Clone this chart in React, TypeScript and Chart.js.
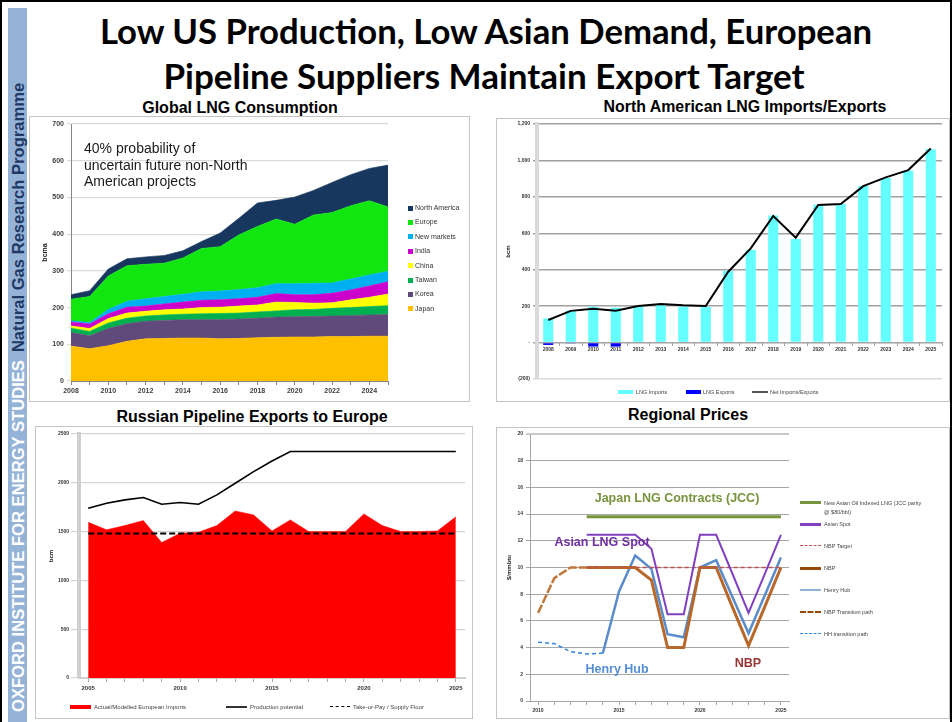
import React, { useEffect, useRef } from "react";
import { Chart, registerables } from "chart.js";

Chart.register(...registerables);

const FONT = "'Liberation Sans', Arial, Helvetica, sans-serif";
Chart.defaults.font.family = FONT;

// ---------- Global LNG Consumption (bcma) ----------
const lngYears = ["2008", "2009", "2010", "2011", "2012", "2013", "2014", "2015", "2016", "2017", "2018", "2019", "2020", "2021", "2022", "2023", "2024", "2025"];
const japan = [95, 88, 96, 108, 115, 116, 117, 117, 115, 116, 118, 119, 120, 120, 121, 121, 122, 122];
const korea = [37, 35, 47, 48, 48, 49, 50, 50, 52, 53, 53, 55, 55, 56, 56, 57, 58, 59];
const taiwan = [12, 12, 15, 15, 14, 15, 15, 16, 17, 16, 17, 17, 19, 19, 21, 22, 23, 24];
const china = [6, 8, 12, 14, 13, 14, 14, 17, 17, 19, 19, 24, 20, 17, 15, 21, 25, 32];
const india = [11, 12, 13, 16, 14, 16, 19, 20, 20, 20, 21, 23, 21, 23, 26, 27, 31, 33];
const newMarkets = [3, 4, 12, 16, 20, 20, 21, 23, 24, 25, 26, 27, 30, 31, 28, 30, 30, 29];
const europe = [59, 71, 91, 97, 94, 91, 99, 118, 121, 149, 167, 176, 162, 186, 192, 199, 202, 175];
const northAmerica = [12, 16, 19, 19, 20, 21, 20, 19, 37, 45, 64, 51, 74, 67, 82, 85, 88, 114];
const lngSeriesNames = ["North America", "Europe", "New markets", "India", "China", "Taiwan", "Korea", "Japan"];
const lngSeriesColors = ["#17375e", "#11e611", "#00b0f0", "#cc00cc", "#ffff00", "#00b050", "#604a7b", "#ffc000"];

// ---------- North American LNG Imports/Exports (bcm) ----------
const naYears = ["2008", "2009", "2010", "2011", "2012", "2013", "2014", "2015", "2016", "2017", "2018", "2019", "2020", "2021", "2022", "2023", "2024", "2025"];
const naImports = [133, 175, 197, 192, 197, 205, 197, 197, 393, 508, 697, 569, 757, 761, 859, 903, 943, 1062];
const naExports = [-13, -5, -22, -22, 0, 0, 0, 0, 0, 0, 0, 0, 0, 0, 0, 0, 0, 0];
const naNet = [124, 174, 186, 175, 201, 212, 205, 201, 389, 517, 695, 576, 755, 761, 859, 907, 947, 1066];

// ---------- Russian Pipeline Exports to Europe ----------
const ruYears = ["2005", "2006", "2007", "2008", "2009", "2010", "2011", "2012", "2013", "2014", "2015", "2016", "2017", "2018", "2019", "2020", "2021", "2022", "2023", "2024", "2025"];
const ruImports = [1596, 1518, 1562, 1613, 1388, 1484, 1494, 1562, 1712, 1671, 1507, 1620, 1500, 1500, 1500, 1681, 1562, 1500, 1500, 1507, 1651];
const ruPotential = [1739, 1791, 1825, 1849, 1781, 1798, 1781, 1876, 1995, 2115, 2224, 2320, 2320, 2320, 2320, 2320, 2320, 2320, 2320, 2320, 2320];
const ruFloor = [1480, 1480, 1480, 1480, 1480, 1480, 1480, 1480, 1480, 1480, 1480, 1480, 1480, 1480, 1480, 1480, 1480, 1480, 1480, 1480, 1480];

// ---------- Regional Prices ($/mmbtu) ----------
const prYears = ["2010", "2011", "2012", "2013", "2014", "2015", "2016", "2017", "2018", "2019", "2020", "2021", "2022", "2023", "2024", "2025"];
const jcc = [null, null, null, 13.8, 13.8, 13.8, 13.8, 13.8, 13.8, 13.8, 13.8, 13.8, 13.8, 13.8, 13.8, 13.8];
const asianSpot = [null, null, null, 12.45, 12.45, 12.45, 12.45, 11.4, 6.5, 6.5, 12.45, 12.45, 9.55, 6.6, 9.5, 12.45];
const nbpTarget = [null, null, null, 10, 10, 10, 10, 10, 10, 10, 10, 10, 10, 10, 10, 10];
const nbp = [null, null, null, 10, 10, 10, 10, 9.05, 4.0, 4.0, 10, 10, 7.05, 4.15, 7.05, 10];
const henryHub = [null, null, null, null, 3.58, 8.2, 10.9, 9.9, 5.0, 4.78, 10, 10.55, 7.8, 5.07, 7.9, 10.75];
const nbpTransition = [6.6, 9.2, 10, 10, null, null, null, null, null, null, null, null, null, null, null, null];
const hhTransition = [4.4, 4.3, 3.7, 3.53, 3.58, null, null, null, null, null, null, null, null, null, null, null];

const area = (label: string, data: number[], color: string, fill: string) => ({
  label, data, backgroundColor: color, borderColor: color, borderWidth: 0.6,
  pointRadius: 0, fill, tension: 0,
});

const base = {
  responsive: false,
  animation: false as const,
  devicePixelRatio: 1,
  events: [] as any[],
};
const noPlug = { legend: { display: false }, tooltip: { enabled: false }, title: { display: false } };

const tlCfg: any = {
  type: "line",
  data: {
    labels: lngYears,
    datasets: [
      area("Japan", japan, "#ffc000", "origin"),
      area("Korea", korea, "#604a7b", "-1"),
      area("Taiwan", taiwan, "#00b050", "-1"),
      area("China", china, "#ffff00", "-1"),
      area("India", india, "#cc00cc", "-1"),
      area("New markets", newMarkets, "#00b0f0", "-1"),
      area("Europe", europe, "#11e611", "-1"),
      area("North America", northAmerica, "#17375e", "-1"),
    ],
  },
  options: {
    ...base,
    plugins: noPlug,
    layout: { padding: { top: 8, right: 82, left: 0, bottom: 0 } },
    scales: {
      x: {
        offset: false,
        grid: { drawOnChartArea: false, tickLength: 4, color: "#868686" },
        border: { color: "#868686", width: 1 },
        ticks: {
          autoSkip: false, maxRotation: 0, padding: 2, color: "#404040",
          font: { size: 7, weight: "bold" },
          callback: (_v: any, i: number) => (i % 2 === 0 ? lngYears[i] : ""),
        },
        afterFit: (s: any) => { s.height = 21; },
      },
      y: {
        stacked: true, min: 0, max: 700,
        ticks: { stepSize: 100, padding: 3, color: "#404040", font: { size: 7, weight: "bold" } },
        grid: { color: "#d9d9d9", lineWidth: 1.2, tickLength: 4 },
        border: { color: "#868686" },
        title: { display: true, text: "bcma", color: "#222", font: { size: 7, weight: "bold" }, padding: { top: 12, bottom: 0 } },
        afterFit: (s: any) => { s.width = 42; },
      },
    },
  },
};

const trCfg: any = {
  type: "bar",
  data: {
    labels: naYears,
    datasets: [
      { type: "line", label: "Net Imports/Exports", data: naNet, borderColor: "#000", borderWidth: 2, pointRadius: 0, tension: 0, order: 0 },
      { label: "LNG Imports", data: naImports, backgroundColor: "#66ffff", barPercentage: 0.5, categoryPercentage: 0.9, order: 1, stack: "a" },
      { label: "LNG Exports", data: naExports, backgroundColor: "#0000ff", barPercentage: 0.5, categoryPercentage: 0.9, order: 1, stack: "a" },
    ],
  },
  options: {
    ...base,
    plugins: noPlug,
    layout: { padding: { top: 6, right: 8, left: 0, bottom: 23 } },
    scales: {
      x: {
        stacked: true,
        position: { y: 0 },
        grid: { drawOnChartArea: false, tickLength: 3, color: "#a6a6a6" },
        border: { color: "#a6a6a6", width: 1 },
        ticks: { autoSkip: false, maxRotation: 0, padding: 1, color: "#333", font: { size: 5, weight: "bold" } },
      },
      y: {
        stacked: true, min: -200, max: 1200,
        ticks: {
          stepSize: 200, padding: 3, color: "#333", font: { size: 5, weight: "bold" },
          callback: (v: number) => (v < 0 ? `(${-v})` : v === 0 ? "-" : v.toLocaleString("en-US")),
        },
        grid: {
          color: (c: any) => (c.tick && c.tick.value === -200 ? "#d9d9d9" : "#a0a0a0"),
          lineWidth: 1.4, tickLength: 4,
        },
        border: { color: "#d9d9d9", width: 4 },
        title: { display: true, text: "bcm", color: "#222", font: { size: 6, weight: "bold" }, padding: { top: 9, bottom: 0 } },
        afterFit: (s: any) => { s.width = 41; },
      },
    },
  },
};

const blCfg: any = {
  type: "line",
  data: {
    labels: ruYears,
    datasets: [
      { label: "Production potential", data: ruPotential, borderColor: "#000", borderWidth: 1.6, pointRadius: 0, tension: 0, fill: false, order: 0 },
      { label: "Take-or-Pay / Supply Floor", data: ruFloor, borderColor: "#000", borderWidth: 2, borderDash: [6, 3], pointRadius: 0, tension: 0, fill: false, order: 0 },
      { label: "Actual/Modelled European Imports", data: ruImports, backgroundColor: "#ff0000", borderColor: "#ff0000", borderWidth: 0.5, pointRadius: 0, tension: 0, fill: "origin", order: 2 },
    ],
  },
  options: {
    ...base,
    plugins: noPlug,
    layout: { padding: { top: 8, right: 8, left: 0, bottom: 0 } },
    scales: {
      x: {
        offset: true,
        grid: { drawOnChartArea: false, tickLength: 4, color: "#a6a6a6" },
        border: { color: "#d0d0d0", width: 2 },
        ticks: {
          autoSkip: false, maxRotation: 0, padding: 3, color: "#333", font: { size: 6, weight: "bold" },
          callback: (_v: any, i: number) => (Number(ruYears[i]) % 5 === 0 ? ruYears[i] : ""),
        },
        afterFit: (s: any) => { s.height = 41; },
      },
      y: {
        min: 0, max: 2500,
        ticks: { stepSize: 500, padding: 2, color: "#333", font: { size: 5, weight: "bold" }, callback: (v: number) => String(v) },
        grid: { color: "#d4d4d4", lineWidth: 1.2, tickLength: 8 },
        border: { color: "#d0d0d0", width: 4 },
        title: { display: true, text: "bcm", color: "#222", font: { size: 6, weight: "bold" }, padding: { top: 13, bottom: 0 } },
        afterFit: (s: any) => { s.width = 44; },
      },
    },
  },
};

const ln = (label: string, data: (number | null)[], color: string, width: number, dash: number[] = []) => ({
  label, data, borderColor: color, backgroundColor: color, borderWidth: width, borderDash: dash,
  pointRadius: 0, tension: 0, fill: false, spanGaps: false,
});

const brCfg: any = {
  type: "line",
  data: {
    labels: prYears,
    datasets: [
      ln("New Asian Oil Indexed LNG (JCC parity @ $80/bbl)", jcc, "#77933c", 3),
      ln("Asian Spot", asianSpot, "#8040c0", 2),
      ln("NBP Target", nbpTarget, "#c0504d", 1.5, [4, 3]),
      ln("NBP", nbp, "#b8682a", 3),
      ln("Henry Hub", henryHub, "#5a8ccc", 2.5),
      ln("NBP Transition path", nbpTransition, "#c0773c", 2.5, [9, 2]),
      ln("HH transition path", hhTransition, "#2e86de", 1.5, [4, 3]),
    ],
  },
  options: {
    ...base,
    plugins: noPlug,
    layout: { padding: { top: 7, right: 161, left: 0, bottom: 0 } },
    scales: {
      x: {
        offset: true,
        grid: { drawOnChartArea: false, tickLength: 4, color: "#a6a6a6" },
        border: { color: "#a6a6a6", width: 1 },
        ticks: {
          autoSkip: false, maxRotation: 0, padding: 3, color: "#333", font: { size: 5, weight: "bold" },
          callback: (_v: any, i: number) => (Number(prYears[i]) % 5 === 0 ? prYears[i] : ""),
        },
        afterFit: (s: any) => { s.height = 18; },
      },
      y: {
        min: 0, max: 20,
        ticks: { stepSize: 2, padding: 3, color: "#333", font: { size: 5, weight: "bold" } },
        grid: {
          color: (c: any) => (c.tick && c.tick.value === 20 ? "#c8c8c8" : "#a6a6a6"),
          lineWidth: (c: any) => (c.tick && c.tick.value === 20 ? 2 : 1),
          tickLength: 4,
        },
        border: { color: "#a6a6a6", width: 1 },
        title: { display: true, text: "$/mmbtu", color: "#222", font: { size: 6, weight: "bold" }, padding: { top: 10, bottom: 0 } },
        afterFit: (s: any) => { s.width = 34; },
      },
    },
  },
};

const abs = (o: any): React.CSSProperties => ({ position: "absolute", ...o });

function Label(props: { x: number; y: number; text: string; size: number; color?: string; bold?: boolean; anchor?: "middle" | "start"; family?: string }) {
  const { x, y, text, size, color = "#000", bold = false, anchor = "middle", family = FONT } = props;
  return (
    <div
      style={abs({
        left: x, top: y, transform: anchor === "middle" ? "translate(-50%,-50%)" : "translate(0,-50%)",
        fontFamily: family, fontSize: size, fontWeight: bold ? 700 : 400, color, lineHeight: 1, whiteSpace: "nowrap",
      })}
    >
      {text}
    </div>
  );
}

function Box(p: { l: number; t: number; r: number; b: number }) {
  return <div style={abs({ left: p.l, top: p.t, width: p.r - p.l, height: p.b - p.t, border: "1px solid #c4c4c4", boxSizing: "border-box" })} />;
}

export default function App() {
  const r1 = useRef<HTMLCanvasElement>(null);
  const r2 = useRef<HTMLCanvasElement>(null);
  const r3 = useRef<HTMLCanvasElement>(null);
  const r4 = useRef<HTMLCanvasElement>(null);

  useEffect(() => {
    const charts = [
      new Chart(r1.current!, tlCfg),
      new Chart(r2.current!, trCfg),
      new Chart(r3.current!, blCfg),
      new Chart(r4.current!, brCfg),
    ];
    return () => charts.forEach((c) => c.destroy());
  }, []);

  const legendFont = { fontFamily: FONT, fontSize: 5.5, color: "#444" };
  const TITLE_FONT = "Lato, 'Open Sans', sans-serif";

  return (
    <div style={abs({ left: 0, top: 0, width: 952, height: 722, background: "#fff", overflow: "hidden" })}>
      {/* slide frame */}
      <div style={abs({ left: 0, top: 0, width: 952, height: 2, background: "#000" })} />
      <div style={abs({ left: 0, top: 0, width: 2, height: 722, background: "#000" })} />
      <div style={abs({ left: 950, top: 0, width: 2, height: 722, background: "#000" })} />

      {/* side bar */}
      <div style={abs({ left: 8, top: 8, width: 19, height: 714, background: "#95b3d7" })} />
      <div
        style={abs({
          left: 8.5, top: 712, transform: "rotate(-90deg)", transformOrigin: "0 0", whiteSpace: "nowrap",
          fontFamily: FONT, fontWeight: 700, fontSize: 16.6, lineHeight: "19px",
        })}
      >
        <span style={{ color: "#fff" }}>OXFORD INSTITUTE FOR ENERGY STUDIES</span>
        <span style={{ color: "#1f3864", marginLeft: 8 }}>Natural Gas Research Programme</span>
      </div>

      {/* main title */}
      <Label x={486} y={31} text="Low US Production, Low Asian Demand, European" size={34.7} bold family={TITLE_FONT} />
      <Label x={484} y={75} text="Pipeline Suppliers Maintain Export Target" size={35} bold family={TITLE_FONT} />

      {/* chart titles */}
      <Label x={240} y={108} text="Global LNG Consumption" size={16} bold />
      <Label x={745} y={107} text="North American LNG Imports/Exports" size={15.9} bold />
      <Label x={252} y={417} text="Russian Pipeline Exports to Europe" size={16} bold />
      <Label x={688} y={415} text="Regional Prices" size={16} bold />

      {/* boxes */}
      <Box l={29} t={116} r={470} b={402} />
      <Box l={496} t={118} r={950} b={402} />
      <Box l={35} t={426} r={473} b={719} />
      <Box l={496} t={427} r={950} b={719} />

      {/* canvases */}
      <canvas ref={r1} width={441} height={286} style={abs({ left: 29, top: 116, width: 441, height: 286 })} />
      <canvas ref={r2} width={454} height={284} style={abs({ left: 496, top: 118, width: 454, height: 284 })} />
      <canvas ref={r3} width={438} height={293} style={abs({ left: 35, top: 426, width: 438, height: 293 })} />
      <canvas ref={r4} width={454} height={292} style={abs({ left: 496, top: 427, width: 454, height: 292 })} />

      {/* TL annotation */}
      <div style={abs({ left: 84, top: 140, fontFamily: FONT, fontSize: 14, lineHeight: "16.5px", color: "#1a1a1a", whiteSpace: "nowrap" })}>
        40% probability of<br />uncertain future non-North<br />American projects
      </div>

      {/* TL legend */}
      {lngSeriesNames.map((n, i) => (
        <React.Fragment key={n}>
          <div style={abs({ left: 408, top: 208 + i * 14.4 - 2.5, width: 5, height: 5, background: lngSeriesColors[i] })} />
          <div style={abs({ left: 415, top: 208 + i * 14.4 - 4, fontFamily: FONT, fontSize: 7, lineHeight: "8px", color: "#333", whiteSpace: "nowrap" })}>{n}</div>
        </React.Fragment>
      ))}

      {/* TR legend */}
      <div style={abs({ left: 618, top: 390, width: 15, height: 4, background: "#66ffff" })} />
      <div style={abs({ left: 636, top: 389, ...legendFont, lineHeight: "6px", whiteSpace: "nowrap" })}>LNG Imports</div>
      <div style={abs({ left: 686, top: 390, width: 15, height: 4, background: "#0000ff" })} />
      <div style={abs({ left: 703, top: 389, ...legendFont, lineHeight: "6px", whiteSpace: "nowrap" })}>LNG Exports</div>
      <div style={abs({ left: 752, top: 391, width: 16, height: 1.5, background: "#555" })} />
      <div style={abs({ left: 770, top: 389, ...legendFont, lineHeight: "6px", whiteSpace: "nowrap" })}>Net Imports/Exports</div>

      {/* BL legend */}
      <div style={abs({ left: 70, top: 705, width: 21, height: 4, background: "#ff0000" })} />
      <div style={abs({ left: 94, top: 704, ...legendFont, fontSize: 6, lineHeight: "6px", whiteSpace: "nowrap" })}>Actual/Modelled European Imports</div>
      <div style={abs({ left: 226, top: 706, width: 21, height: 1.5, background: "#333" })} />
      <div style={abs({ left: 250, top: 704, ...legendFont, fontSize: 6, lineHeight: "6px", whiteSpace: "nowrap" })}>Production potential</div>
      <div style={abs({ left: 330, top: 706, width: 20, height: 0, borderTop: "1.5px dashed #000" })} />
      <div style={abs({ left: 353, top: 704, ...legendFont, fontSize: 6, lineHeight: "6px", whiteSpace: "nowrap" })}>Take-or-Pay / Supply Floor</div>

      {/* BR annotations */}
      <Label x={677} y={498} text="Japan LNG Contracts (JCC)" size={12.5} bold color="#77933c" />
      <Label x={602} y={542} text="Asian LNG Spot" size={12.5} bold color="#7030a0" />
      <Label x={617} y={669} text="Henry Hub" size={12.5} bold color="#558ed5" />
      <Label x={748} y={663} text="NBP" size={12.5} bold color="#953735" />

      {/* BR legend */}
      <div style={abs({ left: 800, top: 501, width: 21, height: 2.5, background: "#77933c" })} />
      <div style={abs({ left: 824, top: 499, ...legendFont, lineHeight: "9px", whiteSpace: "nowrap" })}>New Asian Oil Indexed LNG (JCC parity<br />@ $80/bbl)</div>
      <div style={abs({ left: 800, top: 523, width: 21, height: 2.5, background: "#8040c0" })} />
      <div style={abs({ left: 824, top: 521, ...legendFont, lineHeight: "6px", whiteSpace: "nowrap" })}>Asian Spot</div>
      <div style={abs({ left: 800, top: 545, width: 21, height: 0, borderTop: "1.5px dashed #c0504d" })} />
      <div style={abs({ left: 824, top: 543, ...legendFont, lineHeight: "6px", whiteSpace: "nowrap" })}>NBP Target</div>
      <div style={abs({ left: 800, top: 567, width: 21, height: 2.5, background: "#984807" })} />
      <div style={abs({ left: 824, top: 565, ...legendFont, lineHeight: "6px", whiteSpace: "nowrap" })}>NBP</div>
      <div style={abs({ left: 800, top: 589, width: 21, height: 2, background: "#95b3d7" })} />
      <div style={abs({ left: 824, top: 587, ...legendFont, lineHeight: "6px", whiteSpace: "nowrap" })}>Henry Hub</div>
      <div style={abs({ left: 800, top: 611, width: 21, height: 0, borderTop: "2.5px dashed #984807" })} />
      <div style={abs({ left: 824, top: 609, ...legendFont, lineHeight: "6px", whiteSpace: "nowrap" })}>NBP Transition path</div>
      <div style={abs({ left: 800, top: 633, width: 21, height: 0, borderTop: "1.5px dashed #2e86de" })} />
      <div style={abs({ left: 824, top: 631, ...legendFont, lineHeight: "6px", whiteSpace: "nowrap" })}>HH transition path</div>
    </div>
  );
}
